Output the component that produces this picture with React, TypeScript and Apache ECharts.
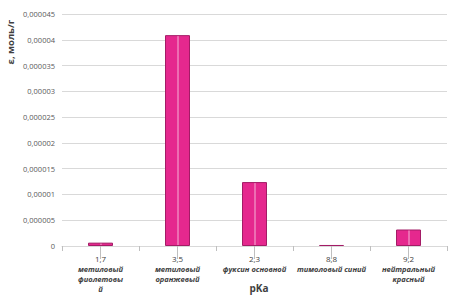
import React, { useEffect, useRef } from "react";
import * as echarts from "echarts";

const pKa = ["1,7", "3,5", "2,3", "8,8", "9,2"];
const names = [
  "метиловый\nфиолетовы\nй",
  "метиловый\nоранжевый",
  "фуксин основной",
  "тимоловый синий",
  "нейтральный\nкрасный",
];
const values = [0.00000065, 0.0000409, 0.0000124, 0.0000002, 0.0000032];

const fmt = (v: number) =>
  v === 0 ? "0" : v.toFixed(6).replace(/0+$/, "").replace(".", ",");

export default function App() {
  const ref = useRef<HTMLDivElement>(null);
  useEffect(() => {
    const chart = echarts.init(ref.current!, null, { renderer: "svg" });
    const cats = pKa.map((p, i) => p + "|" + i);
    chart.setOption({
      animation: false,
      backgroundColor: "#ffffff",
      textStyle: { fontFamily: "Open Sans" },
      grid: { left: 62, right: 5, top: 14, bottom: 50, containLabel: false, outerBoundsMode: "none" },
      xAxis: [
        {
          type: "category",
          data: cats,
          axisLine: { lineStyle: { color: "#d9d9d9" } },
          axisTick: { show: true, length: 5, lineStyle: { color: "#bfbfbf" } },
          axisLabel: {
            interval: 0,
            margin: 6,
            formatter: (v: string) => {
              const i = Number(v.split("|")[1]);
              const nm = names[i]
                .split("\n")
                .map((s) => "{c|" + s + "}")
                .join("\n");
              return "{n|" + pKa[i] + "}\n" + nm;
            },
            rich: {
              n: { fontSize: 8, color: "#404040", fontFamily: "Open Sans", lineHeight: 12 },
              c: {
                fontSize: 7.5,
                color: "#404040",
                fontStyle: "italic",
                fontWeight: "bold",
                fontFamily: "Open Sans",
                lineHeight: 10,
              },
            },
          },
        },
        {
          type: "category",
          data: cats,
          position: "bottom",
          axisLine: { show: false },
          axisTick: { show: true, alignWithLabel: true, length: 13, lineStyle: { color: "#bfbfbf" } },
          axisLabel: { show: false },
        },
      ],
      yAxis: {
        type: "value",
        min: 0,
        max: 0.000045,
        interval: 0.000005,
        axisLine: { show: false },
        axisTick: { show: false },
        splitLine: { lineStyle: { color: "#d9d9d9", width: 1 } },
        axisLabel: { formatter: fmt, fontSize: 7.5, color: "#595959", margin: 7 },
      },
      graphic: [
        {
          type: "text",
          x: 10,
          y: 42,
          rotation: Math.PI / 2,
          style: {
            text: "ε, моль/г",
            fontSize: 9.5,
            fontWeight: "bold",
            fill: "#404040",
            fontFamily: "Open Sans",
            align: "center",
            verticalAlign: "middle",
          },
        },
        {
          type: "text",
          x: 259,
          y: 288,
          style: {
            text: "pKa",
            fontSize: 10,
            fontWeight: "bold",
            fill: "#404040",
            fontFamily: "Open Sans",
            align: "center",
            verticalAlign: "middle",
          },
        },
      ],
      series: [
        {
          type: "bar",
          data: values,
          barWidth: 25,
          itemStyle: { color: "#E5288E", borderColor: "#A31C66", borderWidth: 1 },
          z: 2,
        },
        {
          type: "custom",
          data: values.map((v, i) => [i, v]),
          z: 3,
          renderItem: (params: any, api: any) => {
            const i = api.value(0);
            const v = api.value(1);
            const p0 = api.coord([i, 0]);
            const p1 = api.coord([i, v]);
            if (p0[1] - p1[1] < 3) return null;
            return {
              type: "line",
              shape: { x1: p0[0] + 0.5, y1: p0[1] - 1, x2: p1[0] + 0.5, y2: p1[1] + 1 },
              style: { stroke: "#f4b3d6", lineWidth: 1 },
            };
          },
        },
      ],
    });
    return () => chart.dispose();
  }, []);
  return <div ref={ref} style={{ width: 452, height: 296, position: "absolute", left: 0, top: 0 }} />;
}
